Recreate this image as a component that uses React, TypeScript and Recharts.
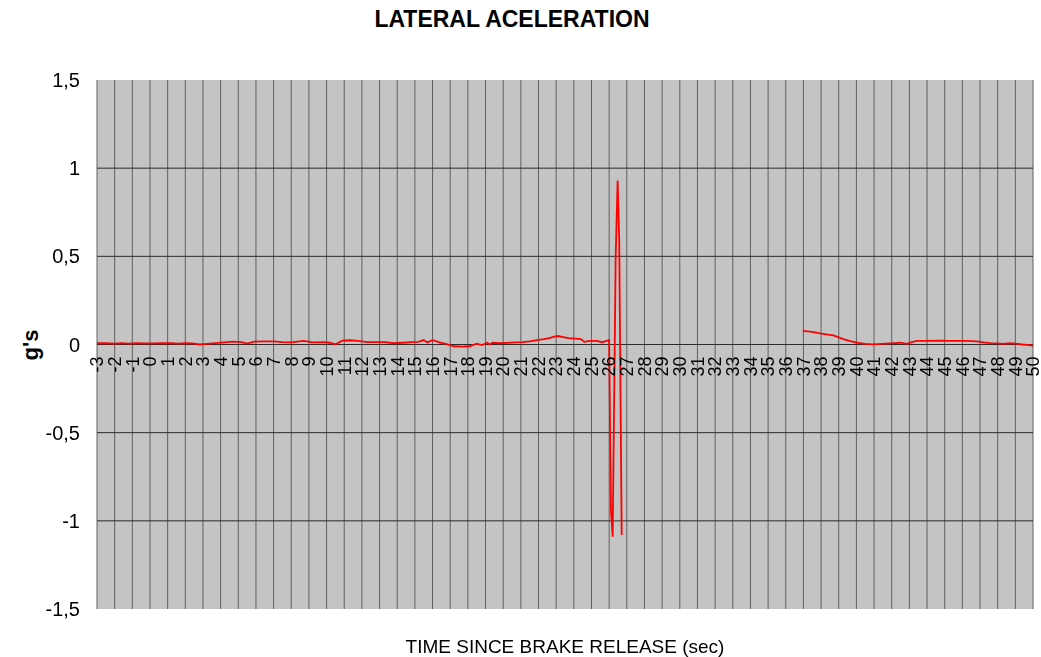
import React from 'react';
import { LineChart, Line, XAxis, YAxis, CartesianGrid } from 'recharts';

// Segment 1: from -3 s to the spike around 26-27 s
const seg1Time = [
  -3.0, -2.5, -2.0, -1.6, -1.2, -0.8, -0.3, 0.2, 0.7, 1.2, 1.6, 2.0, 2.4, 2.8, 3.2, 3.7,
  4.2, 4.7, 5.2, 5.5, 5.9, 6.4, 7.0, 7.5, 8.0, 8.7, 9.2, 9.8, 10.2, 10.5, 10.9, 11.3,
  11.8, 12.3, 12.8, 13.3, 13.8, 14.3, 14.8, 15.2, 15.5, 15.7, 16.0, 16.4, 16.8, 17.2,
  17.7, 18.1, 18.5, 18.8, 19.1, 19.25, 19.4, 19.8, 20.2, 20.7, 21.1, 21.5, 21.9, 22.3,
  22.6, 22.9, 23.1, 23.4, 23.7, 24.1, 24.4, 24.6, 24.9, 25.3, 25.6, 25.85, 26.0, 26.1,
  26.2, 26.37, 26.48, 26.57, 26.71,
];
const seg1G = [
  0.007, 0.007, 0.005, 0.008, 0.005, 0.008, 0.006, 0.006, 0.007, 0.008, 0.005, 0.008, 0.006, 0.0, 0.004, 0.008,
  0.012, 0.016, 0.013, 0.005, 0.016, 0.018, 0.018, 0.013, 0.012, 0.02, 0.012, 0.013, 0.01, 0.001, 0.022, 0.024,
  0.02, 0.014, 0.013, 0.013, 0.007, 0.01, 0.013, 0.015, 0.025, 0.012, 0.025, 0.012, 0.002, -0.01,
  -0.012, -0.01, 0.005, -0.003, 0.01, 0.0, 0.01, 0.007, 0.009, 0.012, 0.014, 0.018, 0.025, 0.03,
  0.036, 0.045, 0.048, 0.042, 0.036, 0.033, 0.031, 0.015, 0.02, 0.02, 0.013, 0.02, 0.025, -0.94,
  -1.09, 0.5, 0.93, 0.59, -1.08,
];

// Segment 2: from 37 s to 50 s
const seg2Time = [
  36.96, 37.5, 37.94, 38.3, 38.7, 39.0, 39.26, 39.6, 40.0, 40.5, 40.96, 41.4, 41.9, 42.2,
  42.5, 42.85, 43.1, 43.4, 44.0, 44.7, 45.2, 45.7, 46.3, 46.8, 47.2, 47.6, 48.0, 48.3,
  48.7, 49.0, 49.4, 49.8, 50.0,
];
const seg2G = [
  0.077, 0.072, 0.063, 0.057, 0.052, 0.04, 0.03, 0.02, 0.01, 0.003, 0.001, 0.003, 0.006, 0.008,
  0.01, 0.004, 0.012, 0.02, 0.021, 0.022, 0.021, 0.02, 0.02, 0.018, 0.012, 0.008, 0.006, 0.004,
  0.008, 0.005, 0.0, -0.004, -0.006,
];

const xTicks = Array.from({ length: 54 }, (_, i) => i - 3);
const yTicks = [-1.5, -1, -0.5, 0, 0.5, 1, 1.5];
const yGridValues = [-1, -0.5, 0, 0.5, 1];

const data = [
  ...seg1Time.map((t, i) => ({ t, g: seg1G[i] })),
  { t: 31.5, g: null },
  ...seg2Time.map((t, i) => ({ t, g: seg2G[i] })),
];

const FONT = 'Arial, "Liberation Sans", sans-serif';
const PLOT_TOP = 80;
const PLOT_BOTTOM = 609;
const ZERO_Y = (PLOT_TOP + PLOT_BOTTOM) / 2;

const fmtY = (v: number) => String(v).replace('.', ',');

const XTick = (props: any) => {
  const { x, payload } = props;
  const ty = ZERO_Y + 12;
  return (
    <text
      x={x}
      y={ty}
      transform={`rotate(-90, ${x}, ${ty})`}
      textAnchor="end"
      dy="0.35em"
      style={{ fontSize: 18, fontFamily: FONT }}
      fill="#000"
    >
      {payload.value}
    </text>
  );
};

export default function App() {
  return (
    <div style={{ position: 'fixed', left: 0, top: 0, width: 1041, height: 657, background: '#fff', fontFamily: FONT }}>
      <div style={{ position: 'absolute', left: 0, width: 1024, top: 6, textAlign: 'center', fontWeight: 'bold', fontSize: 23, color: '#000' }}>
        LATERAL ACELERATION
      </div>
      <div
        style={{
          position: 'absolute', left: 31, top: 345, transform: 'translate(-50%, -50%) rotate(-90deg)',
          fontWeight: 'bold', fontSize: 22, color: '#000', whiteSpace: 'nowrap',
        }}
      >
        g's
      </div>
      <div style={{ position: 'absolute', left: 97, width: 936, top: 636, textAlign: 'center', fontSize: 19, color: '#000' }}>
        TIME SINCE BRAKE RELEASE (sec)
      </div>
      <LineChart
        width={1041}
        height={657}
        data={data}
        margin={{ top: 80, right: 8, left: 0, bottom: 18 }}
        style={{ overflow: 'visible' }}
      >
        <CartesianGrid horizontal={false} stroke="#606060" fill="#c4c4c4" strokeWidth={1} />
        <CartesianGrid vertical={false} stroke="#2a2a2a" strokeWidth={1} horizontalValues={yGridValues} />
        <XAxis
          dataKey="t"
          type="number"
          domain={[-3, 50]}
          ticks={xTicks}
          interval={0}
          allowDataOverflow
          axisLine={false}
          tickLine={false}
          height={30}
          tick={<XTick />}
        />
        <YAxis
          type="number"
          domain={[-1.5, 1.5]}
          ticks={yTicks}
          interval={0}
          width={97}
          axisLine={false}
          tickLine={false}
          tickSize={0}
          tickMargin={17}
          tickFormatter={fmtY}
          tick={{ fontSize: 20, fontFamily: FONT, fill: '#000' }}
        />
        <Line
          dataKey="g"
          type="linear"
          stroke="#ff0000"
          strokeWidth={1.8}
          dot={false}
          connectNulls={false}
          isAnimationActive={false}
        />
      </LineChart>
    </div>
  );
}
